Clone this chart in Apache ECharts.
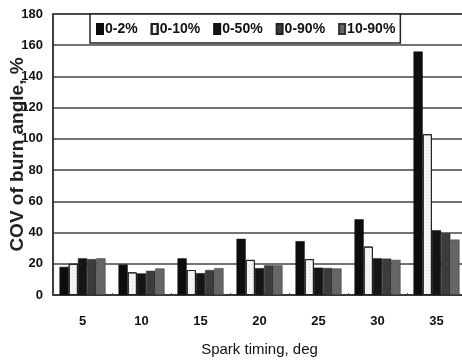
<!DOCTYPE html>
<html><head><meta charset="utf-8">
<script src="https://cdn.jsdelivr.net/npm/echarts@6/dist/echarts.min.js"></script>
<style>html,body{margin:0;padding:0;background:#fff}#c{width:462px;height:363px}</style>
</head><body><div id="c"></div>
<script>
const categories = ['5', '10', '15', '20', '25', '30', '35'];
const s0_2   = [18, 19.5, 23.5, 36, 34.5, 48.5, 156];
const s0_10  = [20, 14.5, 16, 22.5, 23, 31, 103];
const s0_50  = [23.5, 13.8, 14, 17.2, 17.5, 23.5, 41.5];
const s0_90  = [23, 15.5, 16, 19, 17.3, 23.3, 39.5];
const s10_90 = [23.5, 17, 17.2, 19, 17, 22.5, 35.5];
const seriesNames = ['0-2%', '0-10%', '0-50%', '0-90%', '10-90%'];
const yTicks = {min: 0, max: 180, interval: 20};

const chart = echarts.init(document.getElementById('c'));
const F = 'Liberation Sans, Arial, sans-serif';
const styles = [
  {color: '#0d0d0d', borderColor: '#0d0d0d', borderWidth: 0.5},
  {color: '#f4f4f4', borderColor: '#222', borderWidth: 1,
   decal: {symbol: 'rect', symbolSize: 0.5, dashArrayX: [1, 2], dashArrayY: [1, 2], color: 'rgba(120,120,120,0.6)'}},
  {color: '#151515', borderColor: '#111', borderWidth: 0.5},
  {color: '#3c3c3c', borderColor: '#222', borderWidth: 0.5},
  {color: '#666', borderColor: '#333', borderWidth: 0.5}
];
const data = [s0_2, s0_10, s0_50, s0_90, s10_90];
chart.setOption({
  animation: false,
  grid: {left: 53, top: 14, width: 413, height: 281, show: true, borderColor: '#333', borderWidth: 1.5,
         outerBoundsMode: 'none', containLabel: false},
  legend: {
    left: 90, top: 14, padding: [8, 5, 7, 6], itemGap: 13,
    itemWidth: 6, itemHeight: 10, icon: 'rect',
    backgroundColor: '#fff', borderColor: '#222', borderWidth: 1.5,
    textStyle: {fontFamily: F, fontSize: 14, fontWeight: 'bold', color: '#111', padding: [0, 0, 0, -3]},
    data: seriesNames
  },
  xAxis: {
    type: 'category', data: categories,
    name: 'Spark timing, deg', nameLocation: 'middle', nameGap: 47, nameMoveOverlap: false,
    nameTextStyle: {fontFamily: F, fontSize: 15, color: '#111'},
    axisLine: {lineStyle: {color: '#333', width: 1.5}},
    axisTick: {show: true, inside: true, length: 2, lineStyle: {color: '#555'}},
    axisLabel: {fontFamily: F, fontSize: 13, fontWeight: 'bold', color: '#111', margin: 20}
  },
  yAxis: {
    type: 'value', min: yTicks.min, max: yTicks.max, interval: yTicks.interval,
    name: 'COV of burn angle, %', nameLocation: 'middle', nameGap: 26, nameMoveOverlap: false,
    nameTextStyle: {fontFamily: F, fontSize: 19, fontWeight: 'bold', color: '#222', padding: [0, 0, 0, 0]},
    axisLine: {show: true, lineStyle: {color: '#333', width: 1.5}},
    axisTick: {show: false},
    splitLine: {lineStyle: {color: '#444', width: 1.5}},
    axisLabel: {fontFamily: F, fontSize: 13, fontWeight: 'bold', color: '#111', margin: 10}
  },
  series: seriesNames.map((n, i) => ({
    name: n, type: 'bar', data: data[i],
    barGap: '0%', barCategoryGap: '22%',
    itemStyle: styles[i]
  }))
});
</script></body></html>
